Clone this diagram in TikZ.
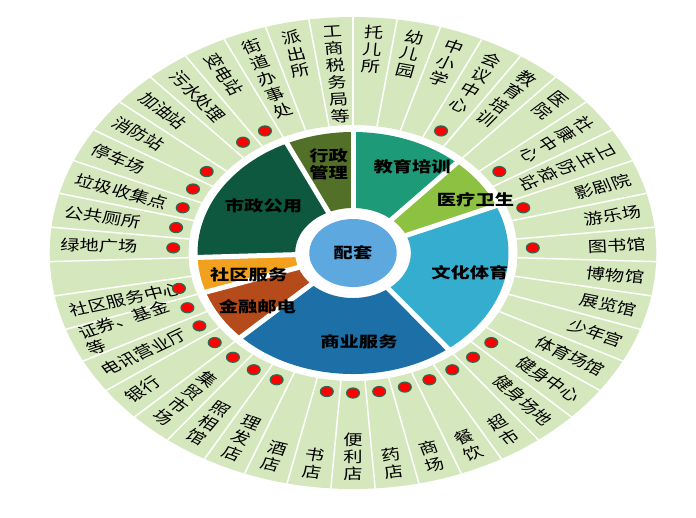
\documentclass[tikz,border=0pt]{standalone}
\usepackage{fontspec}
\setmainfont{Noto Sans CJK SC}
\usepackage{tikz}
\definecolor{ringgreen}{RGB}{213,232,189}
\definecolor{hubblue}{RGB}{94,168,224}
\definecolor{eduteal}{RGB}{29,154,120}
\definecolor{medgreen}{RGB}{141,193,66}
\definecolor{culblue}{RGB}{52,173,206}
\definecolor{bizblue}{RGB}{29,111,167}
\definecolor{finbrown}{RGB}{181,74,26}
\definecolor{comorange}{RGB}{242,161,30}
\definecolor{mungreen}{RGB}{14,88,64}
\definecolor{admolive}{RGB}{83,112,40}
\definecolor{dotrim}{RGB}{44,104,84}
\tikzstyle{sectorgap} = [white, line width=5pt]
\tikzstyle{cellgap} = [white, line width=1.5pt]
\tikzstyle{itemtext} = [inner sep=1pt, font=\fontsize{15}{17}\selectfont, text=black, transform shape]
\tikzstyle{tcol} = [itemtext, align=center, rotate=\ang-90, anchor=north]
\tikzstyle{rrow} = [itemtext, align=left, rotate=\ang, anchor=east]
\tikzstyle{bcol} = [itemtext, align=center, rotate=\ang+90, anchor=south]
\tikzstyle{lrow} = [itemtext, align=left, rotate=\ang+180, anchor=west]
\tikzstyle{grouplabel} = [font=\bfseries\fontsize{15}{17}\selectfont, align=center, inner sep=1pt, transform shape]
\tikzstyle{hub} = [circle, fill=hubblue, minimum size=68pt, inner sep=0pt, font=\bfseries\fontsize{15}{17}\selectfont, transform shape]
\tikzstyle{reddot} = [fill=red, draw=dotrim, line width=1.2pt]

\begin{document}
\begin{tikzpicture}[x=1pt, y=1pt, xscale=1.285]
\useasboundingbox (-274.7,-264) rectangle (266.9,253);

% Outer ring, 43 cells
\fill[ringgreen, even odd rule] (0,0) circle (236) (0,0) circle (128);
\foreach \k in {0,...,42}
  \draw[cellgap] ({90-360/43*\k}:128) -- ({90-360/43*\k}:236);

% Eight groups
\foreach \from/\to/\col in {0/5/eduteal, 5/8/medgreen, 8/17/culblue, 17/27/bizblue,
    27/30/finbrown, 30/32/comorange, 32/40/mungreen, 40/43/admolive}{
  \pgfmathsetmacro\fromang{90-360/43*\from}
  \pgfmathsetmacro\toang{90-360/43*\to}
  \fill[\col] (\fromang:45) arc[start angle=\fromang, end angle=\toang, radius=45]
    -- (\toang:121) arc[start angle=\toang, end angle=\fromang, radius=121] -- cycle;
}
\foreach \k in {0,5,8,17,27,30,32,40}
  \draw[sectorgap] ({90-360/43*\k}:40) -- ({90-360/43*\k}:124);

% Centre
\node[hub] (core) at (0,0) {配套};

% Group labels
\node[grouplabel] (adm) at (102:91) {行政\\管理};
\node[grouplabel] (edu) at (62:98) {教育培训};
\node[grouplabel] (med) at (29:109) {医疗卫生};
\node[grouplabel] (cul) at (-12:93) {文化体育};
\node[grouplabel] (biz) at (-87:89) {商业服务};
\node[grouplabel] (fin) at (-144:92) {金融邮电};
\node[grouplabel] (com) at (-165:84) {社区服务};
\node[grouplabel] (mun) at (146:84) {市政公用};

% Items, clockwise from the top
\foreach \txt/\kind/\hasdot [count=\i from 0] in {
  {托\\儿\\所}/tcol/0, {幼\\儿\\园}/tcol/0, {中\\小\\学}/tcol/0,
  {会\\议\\中\\心}/tcol/1, {教\\育\\培\\训}/tcol/0,
  {医\\院}/tcol/0, {社\\康\\中\\心}/tcol/1, {卫\\生\\防\\疫\\站}/tcol/0,
  影剧院/rrow/1, 游乐场/rrow/0, 图书馆/rrow/1, 博物馆/rrow/0, 展览馆/rrow/0,
  少年宫/rrow/0, 体育场馆/rrow/0, 健身中心/rrow/1, 健身场地/rrow/1,
  {超\\市}/bcol/1, {餐\\饮}/bcol/1, {商\\场}/bcol/1, {药\\店}/bcol/1,
  {便\\利\\店}/bcol/1, {书\\店}/bcol/1, {酒\\店}/bcol/0, {理\\发\\店}/bcol/1,
  {照\\相\\馆}/bcol/1, {集\\贸\\市\\场}/bcol/1,
  银行/lrow/1, 电讯营业厅/lrow/1, {证券、基金\\等}/lrow/1,
  社区服务中心/lrow/1, {}/lrow/0,
  绿地广场/lrow/1, 公共厕所/lrow/1, 垃圾收集点/lrow/1, 停车场/lrow/1,
  消防站/lrow/1, 加油站/lrow/0, 污水处理/lrow/1, 变电站/lrow/1,
  {街\\道\\办\\事\\处}/tcol/0, {派\\出\\所}/tcol/0, {工\\商\\税\\务\\局\\等}/tcol/0}{
  \pgfmathsetmacro\ang{90-360/43*(\i+0.5)}
  \ifx\txt\empty\else
    \node[\kind] (item\i) at (\ang:229) {\txt};
  \fi
  \ifnum\hasdot=1 \fill[reddot] (\ang:140) circle (5); \fi
}
\end{tikzpicture}
\end{document}
